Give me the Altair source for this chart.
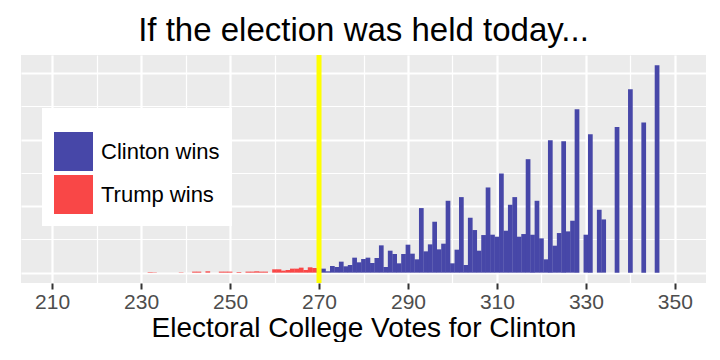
import altair as alt
import pandas as pd

votes = list(range(230, 347))
pct = [
    # 230-239
    0, 0, 0.01, 0.01, 0, 0, 0, 0, 0, 0.01,
    # 240-249
    0, 0, 0.03, 0.03, 0, 0.04, 0, 0, 0.03, 0.03,
    # 250-259
    0.03, 0, 0.02, 0, 0.03, 0.03, 0.04, 0.03, 0.03, 0,
    # 260-269
    0.10, 0.10, 0.06, 0.08, 0.12, 0.12, 0.15, 0.08, 0.16, 0.14,
    # 270-279
    0.12, 0.12, 0.04, 0.20, 0.17, 0.33, 0.19, 0.23, 0.45, 0.31,
    # 280-289
    0.41, 0.45, 0.29, 0.44, 0.82, 0.17, 0.66, 0.56, 0.28, 0.56,
    # 290-299
    0.84, 0.57, 0.40, 1.94, 0.64, 0.85, 1.53, 0.70, 0.87, 2.16,
    # 300-309
    0.28, 0.69, 2.27, 0.23, 1.65, 1.28, 0.66, 1.13, 2.56, 1.14,
    # 310-319
    1.08, 2.98, 1.26, 2.04, 2.27, 1.08, 1.16, 3.41, 1.14, 2.16,
    # 320-329
    1.03, 0.40, 3.98, 0.81, 1.19, 3.95, 1.24, 1.56, 4.91, 0,
    # 330-339
    1.14, 4.16, 0, 1.89, 1.60, 0, 0, 4.38, 0, 0,
    # 340-346
    5.51, 0, 0, 4.51, 0, 0, 6.23,
]
outcomes = ["Clinton wins", "Trump wins"]
colors = ["#4747A8", "#F94747"]
threshold = [270]

df = pd.DataFrame({"votes": votes, "pct": pct})
df["lo"] = df["votes"] - 0.53
df["hi"] = df["votes"] + 0.53
df["outcome"] = [outcomes[0] if v >= 270 else outcomes[1] for v in df["votes"]]
df["zero"] = 0.0

ymax = max(pct)
xdom = [203, 357]
ydom = [-0.05 * ymax, 1.05 * ymax]

x_axis = alt.Axis(
    values=list(range(210, 351, 10)),
    labelExpr="datum.value % 20 == 10 ? datum.label : ''",
    tickColor={"condition": {"test": "datum.value % 20 == 10", "value": "#333333"}, "value": "transparent"},
    gridWidth={"condition": {"test": "datum.value % 20 == 10", "value": 2.2}, "value": 1.2},
    gridColor="white",
    tickSize=6,
    tickWidth=2,
    domain=False,
    labelFontSize=21,
    labelColor="#4D4D4D",
    labelPadding=2,
    title="Electoral College Votes for Clinton",
    titleFontSize=28,
    titleFontWeight="normal",
    titleColor="black",
    titlePadding=2,
)
y_axis = alt.Axis(
    values=[0, 1, 2, 3, 4, 5, 6],
    labels=False,
    ticks=False,
    domain=False,
    title=None,
    gridColor="white",
    gridWidth={"condition": {"test": "datum.value % 2 == 0", "value": 2.2}, "value": 1.2},
)

bars = alt.Chart(df).mark_bar(strokeWidth=0).encode(
    x=alt.X("lo:Q", scale=alt.Scale(domain=xdom, nice=False, zero=False), axis=x_axis),
    x2="hi:Q",
    y=alt.Y("pct:Q", scale=alt.Scale(domain=ydom, nice=False, zero=False), axis=y_axis),
    y2="zero:Q",
    color=alt.Color(
        "outcome:N",
        scale=alt.Scale(domain=outcomes, range=colors),
        legend=alt.Legend(
            title=" ",
            titleFontSize=10,
            titlePadding=2,
            orient="none",
            legendX=21,
            legendY=53,
            fillColor="white",
            padding=12,
            symbolType="square",
            symbolSize=1521,
            symbolStrokeWidth=0,
            labelFontSize=22,
            labelColor="black",
            labelOffset=8,
            rowPadding=4,
        ),
    ),
)

vline = alt.Chart(pd.DataFrame({"v": threshold})).mark_rule(color="#FFFF00", strokeWidth=5).encode(
    x=alt.X("v:Q", scale=alt.Scale(domain=xdom, nice=False, zero=False))
)

chart = (
    alt.layer(bars, vline)
    .properties(
        width=685,
        height=228,
        title=alt.TitleParams("If the election was held today...", fontSize=33, fontWeight="normal",
                              color="black", anchor="middle", offset=5),
        padding={"left": 13, "top": 6, "right": 5, "bottom": 0},
    )
    .configure(font="Liberation Sans")
    .configure_view(fill="#EBEBEB", stroke=None)
)

chart.save("out.html", embed_options={"renderer": "svg", "actions": False})
